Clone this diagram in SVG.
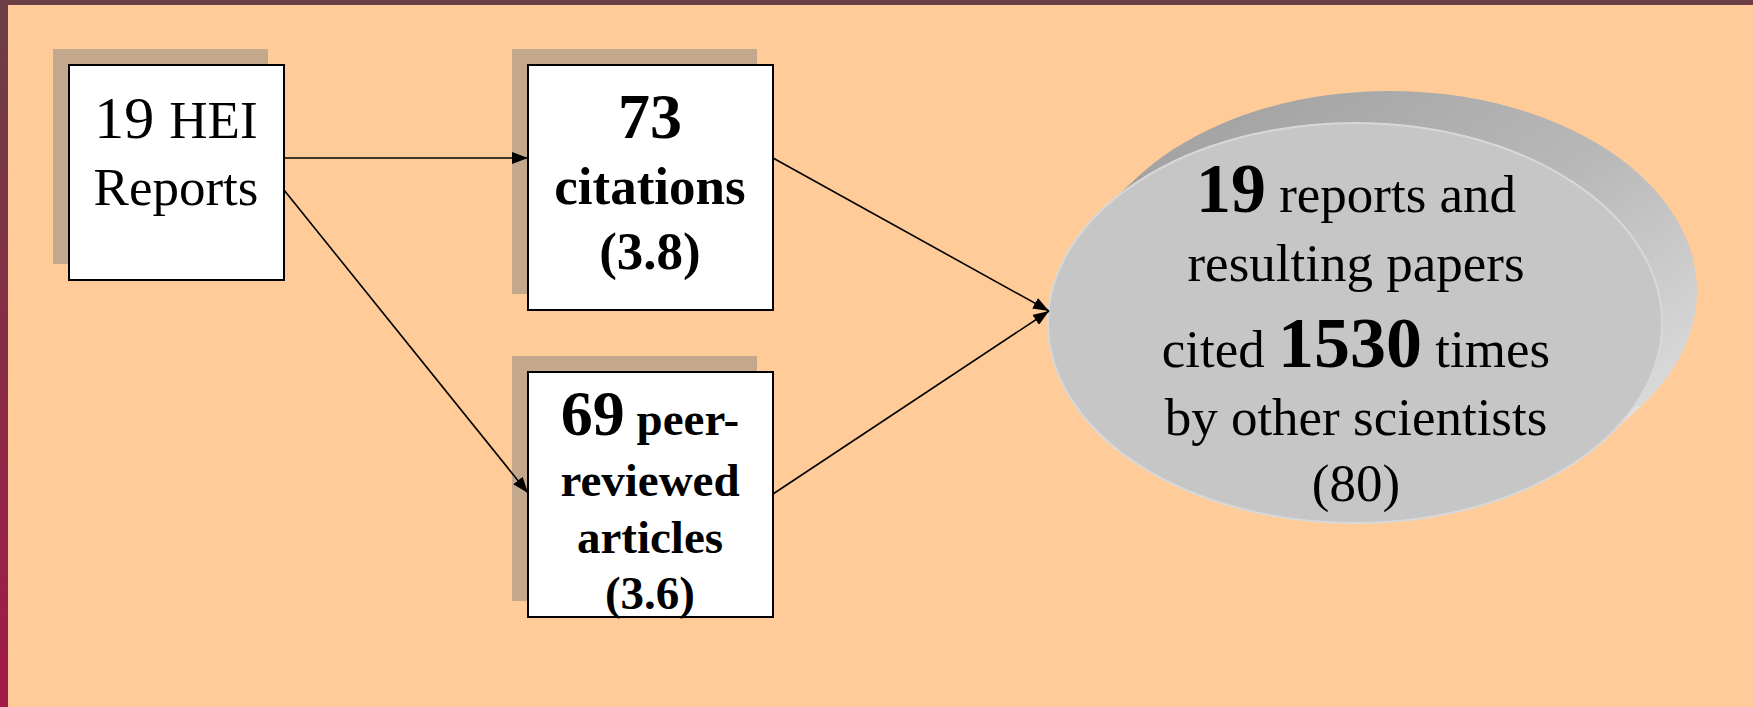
<svg xmlns="http://www.w3.org/2000/svg" width="1753" height="707" viewBox="0 0 1753 707">
<style>
.shadow{fill:#c4a88d}
.box{fill:#ffffff;stroke:#000000;stroke-width:2}
.t{font-family:"Liberation Serif","Times New Roman",serif;fill:#000000;text-anchor:middle}
.b{font-weight:bold}
.conn{stroke:#000000;stroke-width:1.6;fill:none;marker-end:url(#arr)}
</style>
<defs>
<linearGradient id="lb" x1="0" y1="0" x2="0" y2="1">
<stop offset="0" stop-color="#6b3f45"/>
<stop offset="1" stop-color="#a31a48"/>
</linearGradient>
<linearGradient id="side" x1="0" y1="0" x2="1" y2="1">
<stop offset="0" stop-color="#9c9c9c"/>
<stop offset="0.5" stop-color="#b8b8b8"/>
<stop offset="1" stop-color="#e8e8e8"/>
</linearGradient>
<marker id="arr" markerUnits="userSpaceOnUse" markerWidth="16" markerHeight="12" refX="16" refY="6" orient="auto">
<path d="M0,0 L16,6 L0,12 z" fill="#000000"/>
</marker>
</defs>
<rect x="0" y="0" width="1753" height="707" fill="#ffcc99"/>
<rect x="0" y="0" width="1753" height="5" fill="#6b3f45"/>
<rect x="0" y="0" width="8" height="707" fill="url(#lb)"/>

<g id="node-hei-reports">
<rect class="shadow" x="53" y="49" width="215" height="215"/>
<rect class="box" x="69" y="65" width="215" height="215"/>
<text class="t" x="176" y="138"><tspan font-size="60">19 </tspan><tspan font-size="53">HEI</tspan></text>
<text class="t" x="176" y="205" font-size="53">Reports</text>
</g>

<g id="node-citations">
<rect class="shadow" x="512" y="49" width="245" height="245"/>
<rect class="box" x="528" y="65" width="245" height="245"/>
<text class="t b" x="650" y="138" font-size="64">73</text>
<text class="t b" x="650" y="204" font-size="53">citations</text>
<text class="t b" x="650" y="269" font-size="53">(3.8)</text>
</g>

<g id="node-articles">
<rect class="shadow" x="512" y="356" width="245" height="245"/>
<rect class="box" x="528" y="372" width="245" height="245"/>
<text class="t b" x="650" y="435"><tspan font-size="64">69</tspan><tspan font-size="47"> peer-</tspan></text>
<text class="t b" x="650" y="496" font-size="47">reviewed</text>
<text class="t b" x="650" y="553" font-size="47">articles</text>
<text class="t b" x="650" y="609" font-size="47">(3.6)</text>
</g>

<g id="node-cited">
<ellipse cx="1390" cy="291" rx="307" ry="200" fill="url(#side)"/>
<polygon points="1105,207 1605,439 1640,407 1140,175" fill="url(#side)"/>
<ellipse cx="1355" cy="323" rx="307" ry="200" fill="#c6c6c6" stroke="#d8d8d8" stroke-width="2"/>
<text class="t" x="1356" y="212" font-size="53"><tspan class="b" font-size="70">19</tspan> reports and</text>
<text class="t" x="1356" y="281" font-size="53">resulting papers</text>
<text class="t" x="1356" y="367" font-size="53">cited <tspan class="b" font-size="72">1530</tspan> times</text>
<text class="t" x="1356" y="435" font-size="53">by other scientists</text>
<text class="t" x="1356" y="501" font-size="53">(80)</text>
</g>

<g id="connectors">
<line class="conn" x1="284" y1="158" x2="528" y2="158"/>
<line class="conn" x1="284" y1="190" x2="528" y2="493"/>
<line class="conn" x1="773" y1="158" x2="1049" y2="311"/>
<line class="conn" x1="773" y1="494" x2="1049" y2="311"/>
</g>
</svg>
